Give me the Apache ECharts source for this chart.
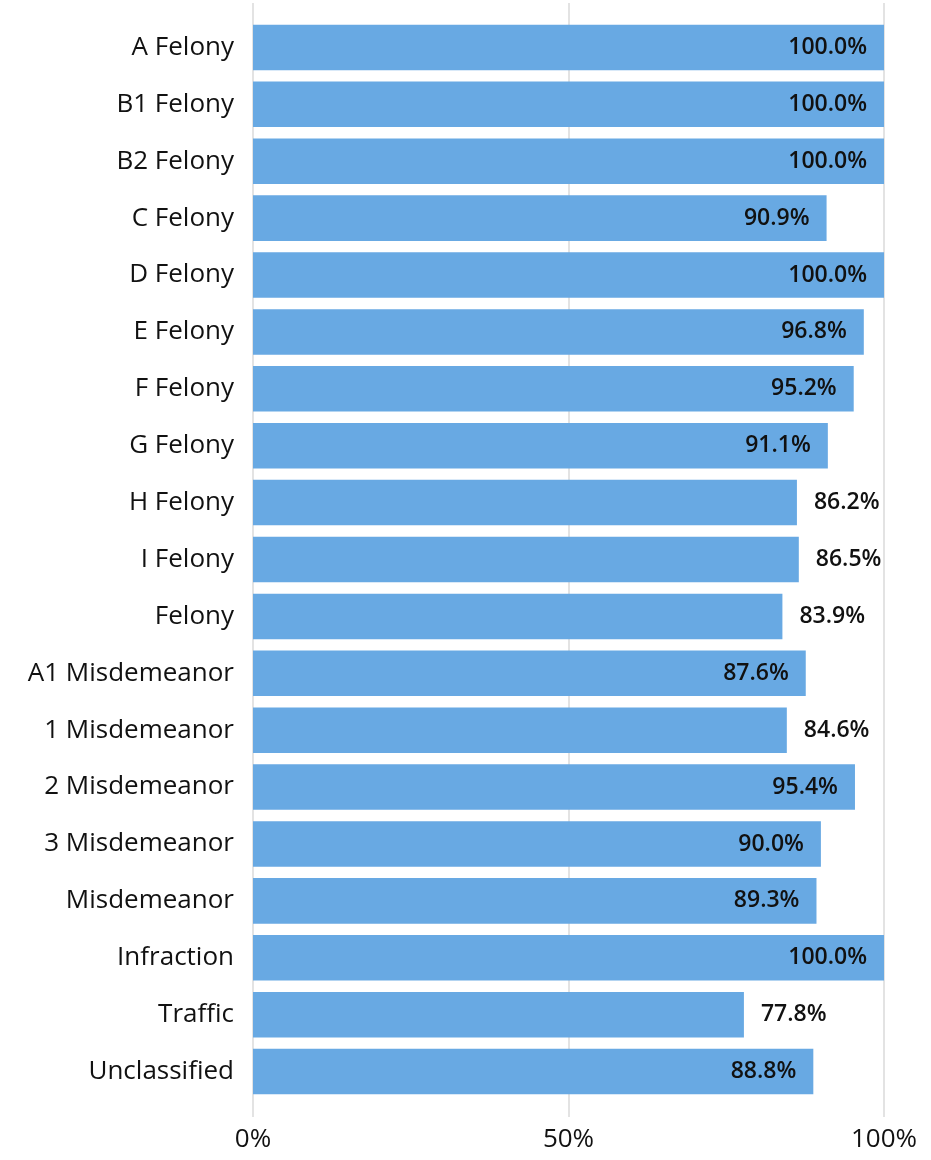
<!DOCTYPE html>
<html>
<head>
<meta charset="utf-8">
<script src="https://cdn.jsdelivr.net/npm/echarts@6/dist/echarts.min.js"></script>
<style>html,body{margin:0;padding:0;background:#fff;}#c{width:931px;height:1160px;}</style>
</head>
<body>
<div id="c"></div>
<script>
const categories = ["A Felony","B1 Felony","B2 Felony","C Felony","D Felony","E Felony","F Felony","G Felony","H Felony","I Felony","Felony","A1 Misdemeanor","1 Misdemeanor","2 Misdemeanor","3 Misdemeanor","Misdemeanor","Infraction","Traffic","Unclassified"];
const values = [100,100,100,90.9,100,96.8,95.2,91.1,86.2,86.5,83.9,87.6,84.6,95.4,90.0,89.3,100,77.8,88.8];
const tickLabels = {0:"0%",50:"50%",100:"100%"};

const chart = echarts.init(document.getElementById('c'));
const labelFont = '"Open Sans", "Noto Sans", sans-serif';
const catFont = '"Open Sans", "Noto Sans", sans-serif';
chart.setOption({
  animation:false,
  grid:[
    {left:253,right:47,top:3,bottom:43},
    {left:253,right:47,top:19,bottom:60}
  ],
  xAxis:[
    {gridIndex:0,type:'value',min:0,max:100,interval:50,
     axisLine:{show:false},axisTick:{show:false},
     splitLine:{show:true,lineStyle:{color:'#e3e3e3',width:2}},
     axisLabel:{formatter:v=>tickLabels[v],fontFamily:catFont,fontSize:26,color:'#111',margin:10}},
    {gridIndex:1,type:'value',min:0,max:100,interval:50,show:false,splitLine:{show:false}}
  ],
  yAxis:[
    {gridIndex:0,type:'category',data:categories,show:false},
    {gridIndex:1,type:'category',data:categories,inverse:true,
     axisLine:{show:false},axisTick:{show:false},
     axisLabel:{fontFamily:catFont,fontSize:26,color:'#111',margin:19,padding:[2,0,0,0]}}
  ],
  series:[{
    type:'bar',xAxisIndex:1,yAxisIndex:1,barCategoryGap:'20%',
    itemStyle:{color:'#68a9e3'},
    data:values.map(v=>({value:v,label:{position: v>=87?'insideRight':'right'}})),
    label:{show:true,distance:17,formatter:p=>p.value.toFixed(1)+'%',
      fontFamily:labelFont,fontSize:23,fontWeight:600,color:'#111'}
  }]
});
</script>
</body>
</html>
